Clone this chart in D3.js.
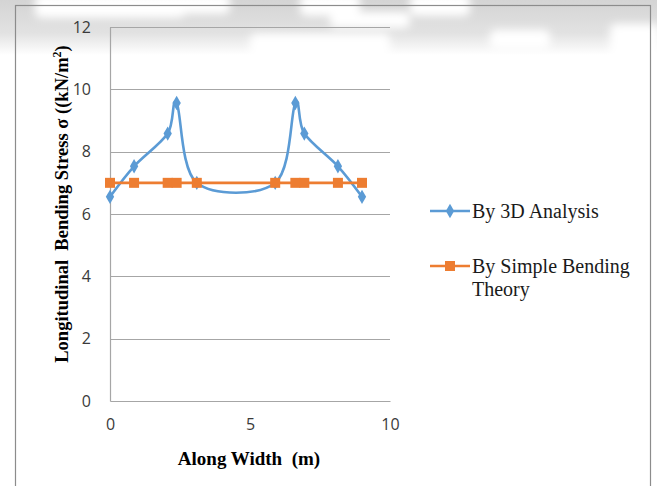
<!DOCTYPE html>
<html>
<head>
<meta charset="utf-8">
<script src="https://cdn.jsdelivr.net/npm/d3@7"></script>
<style>
  html, body { margin: 0; padding: 0; background: #fff; }
  svg { display: block; }
</style>
</head>
<body>
<svg id="chart" width="657" height="486"></svg>
<script>
// ---- data ----
const xPositions = [0, 0.86, 2.06, 2.38, 3.1, 5.9, 6.62, 6.94, 8.14, 9.0];
const analysis3D = [6.55, 7.53, 8.58, 9.56, 7.0, 7.0, 9.56, 8.58, 7.53, 6.55];
const simpleBending = [7.0, 7.0, 7.0, 7.0, 7.0, 7.0, 7.0, 7.0, 7.0, 7.0];
const xTicks = [0, 5, 10];
const yTicks = [0, 2, 4, 6, 8, 10, 12];
const seriesNames = ["By 3D Analysis", "By Simple Bending Theory"];

const svg = d3.select("#chart");
const W = 657, H = 486;

// background artifacts (blurred band from scanned page)
const defs = svg.append("defs");
const grad = defs.append("linearGradient").attr("id", "topband").attr("x1", 0).attr("y1", 0).attr("x2", 0).attr("y2", 1);
grad.append("stop").attr("offset", "0%").attr("stop-color", "#d4d4d4");
grad.append("stop").attr("offset", "60%").attr("stop-color", "#e2e2e2");
grad.append("stop").attr("offset", "100%").attr("stop-color", "#ffffff");
defs.append("filter").attr("id", "blur").append("feGaussianBlur").attr("stdDeviation", 4);

svg.append("rect").attr("width", W).attr("height", H).attr("fill", "#fff");
svg.append("rect").attr("x", 0).attr("y", 0).attr("width", W).attr("height", 55).attr("fill", "url(#topband)");
const blobs = svg.append("g").attr("filter", "url(#blur)");
[[35, -6, 150, 24], [170, -6, 60, 20], [300, -6, 60, 22], [410, -6, 60, 22], [490, 30, 60, 20], [250, 34, 140, 26], [330, 12, 80, 16], [610, 24, 50, 40]]
  .forEach(([x, y, w, h]) => blobs.append("rect").attr("x", x).attr("y", y).attr("width", w).attr("height", h).attr("rx", 6).attr("fill", "#fff"));

// outer chart border
svg.append("rect").attr("x", 15.5).attr("y", 5.5).attr("width", 635).attr("height", 490)
  .attr("fill", "none").attr("stroke", "#8c8c8c").attr("stroke-width", 1.2);

// scales
const x = d3.scaleLinear().domain([0, 10]).range([110, 390]);
const y = d3.scaleLinear().domain([0, 12]).range([401, 27]);

// gridlines
svg.append("g").selectAll("line").data(yTicks.filter(d => d > 0)).join("line")
  .attr("x1", x(0)).attr("x2", x(10))
  .attr("y1", d => Math.round(y(d)) + 0.5).attr("y2", d => Math.round(y(d)) + 0.5)
  .attr("stroke", "#a6a6a6").attr("stroke-width", 1);

// axes
const yAxis = svg.append("g").attr("transform", `translate(${x(0)},0)`)
  .call(d3.axisLeft(y).tickValues(yTicks).tickSize(0).tickPadding(19).tickFormat(d3.format("d")));
const xAxis = svg.append("g").attr("transform", `translate(0,${y(0)})`)
  .call(d3.axisBottom(x).tickValues(xTicks).tickSize(0).tickPadding(18).tickFormat(d3.format("d")));
[yAxis, xAxis].forEach(a => {
  a.select(".domain").attr("stroke", "#a6a6a6").attr("stroke-width", 1.2);
  a.selectAll("text").attr("font-family", "'Open Sans', Lato, sans-serif").attr("font-size", 16).attr("fill", "#3a3a3a");
});

// axis titles
svg.append("text")
  .attr("transform", `translate(62,204) rotate(-90)`)
  .attr("text-anchor", "middle")
  .attr("font-family", "'Liberation Serif', 'Times New Roman', serif")
  .attr("font-weight", "bold").attr("font-size", 18.5).attr("fill", "#000")
  .attr("dy", "0.35em")
  .attr("xml:space", "preserve")
  .html('Longitudinal  Bending Stress σ ((kN/m<tspan dy="-7" font-size="12">2</tspan><tspan dy="7">)</tspan>');

svg.append("text")
  .attr("x", 249).attr("y", 465)
  .attr("text-anchor", "middle")
  .attr("font-family", "'Liberation Serif', 'Times New Roman', serif")
  .attr("font-weight", "bold").attr("font-size", 19).attr("fill", "#000")
  .attr("xml:space", "preserve")
  .text("Along Width  (m)");

// series
const blue = "#5b9bd5", orange = "#ed7d31";
const ptsA = xPositions.map((d, i) => [d, analysis3D[i]]);
const ptsB = xPositions.map((d, i) => [d, simpleBending[i]]);
const lineSmooth = d3.line().x(d => x(d[0])).y(d => y(d[1])).curve(d3.curveCardinal.tension(0));
const lineStraight = d3.line().x(d => x(d[0])).y(d => y(d[1]));

svg.append("path").attr("d", lineSmooth(ptsA)).attr("fill", "none").attr("stroke", blue).attr("stroke-width", 2.6);
const diamond = d3.symbol().type(d3.symbolDiamond).size(60);
svg.append("g").selectAll("path").data(ptsA).join("path")
  .attr("d", diamond).attr("transform", d => `translate(${x(d[0])},${y(d[1])})`).attr("fill", blue);

svg.append("path").attr("d", lineStraight(ptsB)).attr("fill", "none").attr("stroke", orange).attr("stroke-width", 2.6);
svg.append("g").selectAll("rect").data(ptsB).join("rect")
  .attr("x", d => x(d[0]) - 5).attr("y", d => y(d[1]) - 5).attr("width", 10).attr("height", 10).attr("fill", orange);

// legend
const lg = svg.append("g");
const legendFont = "'Liberation Serif', 'Times New Roman', serif";
lg.append("line").attr("x1", 430).attr("x2", 470).attr("y1", 211).attr("y2", 211).attr("stroke", blue).attr("stroke-width", 2.6);
lg.append("path").attr("d", diamond).attr("transform", "translate(450,211)").attr("fill", blue);
lg.append("text").attr("x", 472).attr("y", 218).attr("font-family", legendFont).attr("font-size", 20).attr("fill", "#1a1a1a").text(seriesNames[0]);

lg.append("line").attr("x1", 430).attr("x2", 470).attr("y1", 266).attr("y2", 266).attr("stroke", orange).attr("stroke-width", 2.6);
lg.append("rect").attr("x", 445).attr("y", 261).attr("width", 10).attr("height", 10).attr("fill", orange);
const t2 = lg.append("text").attr("font-family", legendFont).attr("font-size", 20).attr("fill", "#1a1a1a");
t2.append("tspan").attr("x", 472).attr("y", 273).text("By Simple Bending");
t2.append("tspan").attr("x", 472).attr("y", 296).text("Theory");
</script>
</body>
</html>
